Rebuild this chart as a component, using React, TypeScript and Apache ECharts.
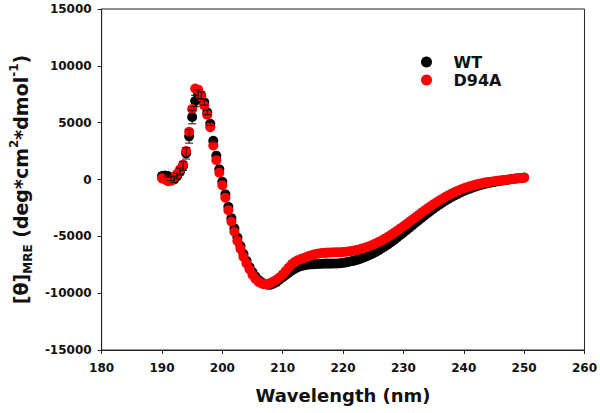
import React, { useEffect, useRef } from "react";
import * as echarts from "echarts";

const wavelengths = [
  190, 190.5, 191, 191.5, 192, 192.5, 193, 193.5, 194, 194.5,
  195, 195.5, 196, 196.5, 197, 197.5, 198, 198.5, 199, 199.5,
  200, 200.5, 201, 201.5, 202, 202.5, 203, 203.5, 204, 204.5,
  205, 205.5, 206, 206.5, 207, 207.5, 208, 208.5, 209, 209.5,
  210, 210.5, 211, 211.5, 212, 212.5, 213, 213.5, 214, 214.5,
  215, 215.5, 216, 216.5, 217, 217.5, 218, 218.5, 219, 219.5,
  220, 220.5, 221, 221.5, 222, 222.5, 223, 223.5, 224, 224.5,
  225, 225.5, 226, 226.5, 227, 227.5, 228, 228.5, 229, 229.5,
  230, 230.5, 231, 231.5, 232, 232.5, 233, 233.5, 234, 234.5,
  235, 235.5, 236, 236.5, 237, 237.5, 238, 238.5, 239, 239.5,
  240, 240.5, 241, 241.5, 242, 242.5, 243, 243.5, 244, 244.5,
  245, 245.5, 246, 246.5, 247, 247.5, 248, 248.5, 249, 249.5,
  250,
];

const wtValues = [
  300, 350, 300, 100, 0, 300, 700, 1200, 2300, 3800,
  5500, 6900, 7500, 7400, 6800, 5900, 4900, 3400, 2100, 900,
  -200, -1300, -2400, -3400, -4300, -5100, -5850, -6550, -7150, -7700,
  -8150, -8550, -8850, -9050, -9200, -9250, -9250, -9150, -9000, -8800,
  -8600, -8400, -8200, -8000, -7850, -7720, -7620, -7550, -7500, -7470,
  -7450, -7430, -7420, -7410, -7400, -7400, -7400, -7390, -7380, -7360,
  -7330, -7290, -7240, -7180, -7110, -7030, -6940, -6840, -6730, -6610,
  -6480, -6340, -6190, -6030, -5860, -5680, -5490, -5290, -5090, -4880,
  -4670, -4460, -4240, -4020, -3800, -3590, -3380, -3170, -2960, -2760,
  -2560, -2370, -2190, -2010, -1840, -1680, -1530, -1390, -1260, -1130,
  -1010, -900, -800, -700, -610, -530, -450, -380, -320, -260,
  -210, -160, -120, -80, -40, 0, 40, 80, 110, 140,
  170,
];

const wtErrors = [
  0, 0, 100, 200, 250, 250, 300, 400, 500, 600,
  600, 500, 400, 300, 250, 200, 150, 100, 0, 0,
];

const d94aValues = [
  100, 0, -150, -100, 200, 500, 900, 1300, 2500, 4200,
  6200, 8000, 7900, 7300, 6500, 5700, 4600, 3000, 1700, 600,
  -500, -1600, -2700, -3700, -4600, -5400, -6100, -6800, -7400, -7900,
  -8400, -8750, -9000, -9150, -9200, -9200, -9100, -8950, -8800, -8600,
  -8350, -8050, -7750, -7450, -7250, -7100, -7000, -6900, -6800, -6700,
  -6620, -6560, -6500, -6470, -6450, -6430, -6420, -6400, -6400, -6400,
  -6380, -6350, -6320, -6280, -6230, -6170, -6100, -6020, -5930, -5830,
  -5720, -5600, -5470, -5330, -5180, -5020, -4850, -4670, -4490, -4300,
  -4110, -3920, -3720, -3520, -3320, -3120, -2920, -2730, -2540, -2350,
  -2170, -2000, -1830, -1670, -1520, -1380, -1240, -1110, -990, -880,
  -780, -690, -600, -520, -450, -380, -320, -270, -230, -190,
  -150, -110, -80, -50, -20, 10, 40, 70, 100, 130,
  160,
];

const xTicks = { min: 180, max: 260, interval: 10 };
const yTicks = { min: -15000, max: 15000, interval: 5000 };

const FONT = "DejaVu Sans";

export default function App() {
  const ref = useRef<HTMLDivElement>(null);

  useEffect(() => {
    if (!ref.current) return;
    const chart = echarts.init(ref.current, undefined, { renderer: "svg" });

    const wtData = wavelengths.map((w, i) => [w, wtValues[i]]);
    const d94aData = wavelengths.map((w, i) => [w, d94aValues[i]]);
    const errData = wtErrors
      .map((e, i) => [wavelengths[i], wtValues[i], e])
      .filter((d) => d[2] > 0);

    const axisLabel = {
      fontFamily: FONT,
      fontWeight: "bold" as const,
      fontSize: 12,
      color: "#111",
      formatter: (v: number) => String(v),
    };

    chart.setOption({
      animation: false,
      backgroundColor: "#fff",
      grid: {
        left: 100,
        right: 14,
        top: 9,
        bottom: 63,
        show: true,
        borderColor: "#222",
        borderWidth: 1,
        containLabel: false,
      },
      legend: {
        orient: "vertical",
        left: 416,
        top: 49,
        itemWidth: 38,
        itemHeight: 11,
        itemGap: 2,
        icon: "circle",
        data: ["WT", "D94A"],
        textStyle: {
          fontFamily: FONT,
          fontWeight: "bold",
          fontSize: 16,
          color: "#111",
          padding: [0, 0, 0, 3],
        },
      },
      xAxis: {
        type: "value",
        min: xTicks.min,
        max: xTicks.max,
        interval: xTicks.interval,
        name: "Wavelength (nm)",
        nameLocation: "middle",
        nameGap: 36,
        nameTextStyle: {
          fontFamily: FONT,
          fontWeight: "bold",
          fontSize: 18,
          color: "#111",
        },
        axisLine: { onZero: false, lineStyle: { color: "#222", width: 1 } },
        axisTick: { show: true, inside: false, length: 4, lineStyle: { color: "#222" } },
        axisLabel: { ...axisLabel, margin: 12 },
        splitLine: { show: false },
      },
      yAxis: {
        type: "value",
        min: yTicks.min,
        max: yTicks.max,
        interval: yTicks.interval,
        name: "{a|[θ]}{sub|MRE}{a| (deg*cm}{sup|2}{a|*dmol}{sup|-1}{a|)}",
        nameLocation: "middle",
        nameGap: 67,
        nameTextStyle: {
          fontFamily: FONT,
          fontWeight: "bold",
          fontSize: 18,
          color: "#111",
          rich: {
            a: { fontFamily: FONT, fontWeight: "bold", fontSize: 19, color: "#111", lineHeight: 26, verticalAlign: "middle" },
            sub: { fontFamily: FONT, fontWeight: "bold", fontSize: 12, color: "#111", lineHeight: 26, verticalAlign: "bottom" },
            sup: { fontFamily: FONT, fontWeight: "bold", fontSize: 12, color: "#111", lineHeight: 26, verticalAlign: "top" },
          },
        },
        axisLine: { onZero: false, lineStyle: { color: "#222", width: 1 } },
        axisTick: { show: true, inside: false, length: 4, lineStyle: { color: "#222" } },
        axisLabel: { ...axisLabel, margin: 10 },
        splitLine: { show: false },
      },
      series: [
        {
          name: "WT",
          type: "scatter",
          data: wtData,
          symbol: "circle",
          symbolSize: 10,
          itemStyle: { color: "#000", opacity: 1 },
          z: 2,
        },
        {
          name: "WT-err",
          type: "custom",
          data: errData,
          z: 4,
          silent: true,
          renderItem: (params: any, api: any) => {
            const x = api.value(0);
            const y = api.value(1);
            const e = api.value(2);
            const top = api.coord([x, y + e]);
            const bot = api.coord([x, y - e]);
            const hw = 4;
            const style = { stroke: "#111", lineWidth: 1 };
            return {
              type: "group",
              children: [
                { type: "line", shape: { x1: top[0], y1: top[1], x2: bot[0], y2: bot[1] }, style },
                { type: "line", shape: { x1: top[0] - hw, y1: top[1], x2: top[0] + hw, y2: top[1] }, style },
                { type: "line", shape: { x1: bot[0] - hw, y1: bot[1], x2: bot[0] + hw, y2: bot[1] }, style },
              ],
            };
          },
        },
        {
          name: "D94A",
          type: "scatter",
          data: d94aData,
          symbol: "circle",
          symbolSize: 10,
          itemStyle: { color: "#ff0000", opacity: 1 },
          z: 3,
        },
      ],
    });

    return () => chart.dispose();
  }, []);

  return (
    <div
      ref={ref}
      style={{ position: "fixed", left: 0, top: 0, width: 600, height: 413, background: "#fff" }}
    />
  );
}
